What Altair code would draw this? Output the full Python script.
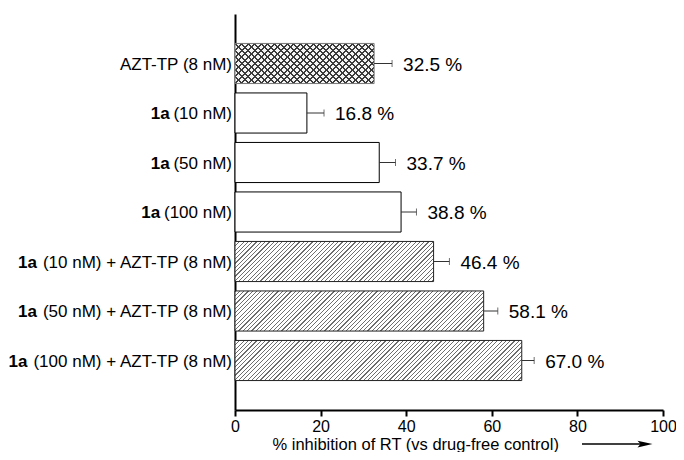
import altair as alt
import pandas as pd

# ---- data ----
label_bold = ["", "1a", "1a", "1a", "1a", "1a", "1a"]
label_rest = ["AZT-TP (8 nM)", "(10 nM)", "(50 nM)", "(100 nM)",
              "(10 nM) + AZT-TP (8 nM)", "(50 nM) + AZT-TP (8 nM)",
              "(100 nM) + AZT-TP (8 nM)"]
values = [32.5, 16.8, 33.7, 38.8, 46.4, 58.1, 67.0]
errors = [4.2, 4.0, 3.8, 3.6, 3.7, 3.3, 2.9]
styles = ["cross", "plain", "plain", "plain", "hatch", "hatch", "hatch"]
x_ticks = [0, 20, 40, 60, 80, 100]
x_title = "% inhibition of RT (vs drug-free control)"

categories = [(b + " " + r) if b else r for b, r in zip(label_bold, label_rest)]
df = pd.DataFrame({
    "cat": categories,
    "bold": label_bold,
    "rest": label_rest,
    "value": values,
    "hi": [v + e for v, e in zip(values, errors)],
    "style": styles,
    "txt": [f"{v:.1f} %" for v in values],
})

FONT = "Liberation Sans"
PLOT_W, PLOT_H = 428, 396
P_IN, P_OUT = 0.19, 0.595
STEP = PLOT_H / (len(categories) - P_IN + 2 * P_OUT)
BAR_H = STEP * (1 - P_IN)
LBL_SIZE = 17

# Arial-metric widths (em) for label placement
W_REG = {" ": .278, "(": .333, ")": .333, "n": .556, "M": .833, "+": .584,
         "A": .667, "Z": .611, "T": .611, "-": .333, "P": .667}
for d in "0123456789":
    W_REG[d] = .556


def text_w(s, size):
    return sum(W_REG.get(c, .556) for c in s) * size


def stripes(w, h, spacing, lw, color, base, flip):
    span = w + h
    k = span / (w * w + h * h)
    n = span / spacing
    frac = lw / spacing
    stops = []
    i = 0
    while i < n:
        t0 = i / n
        t1 = min((i + frac) / n, 1.0)
        stops += [{"offset": t0, "color": base}, {"offset": t0, "color": color},
                  {"offset": t1, "color": color}, {"offset": t1, "color": base}]
        i += 1
    stops.append({"offset": 1.0, "color": base})
    if flip:
        return {"gradient": "linear", "x1": 0, "y1": 1, "x2": w * k, "y2": 1 - h * k, "stops": stops}
    return {"gradient": "linear", "x1": 0, "y1": 0, "x2": w * k, "y2": h * k, "stops": stops}


y_enc = alt.Y("cat:N", sort=categories,
              scale=alt.Scale(paddingInner=P_IN, paddingOuter=P_OUT),
              axis=alt.Axis(labels=False, ticks=False, title=None, domainColor="black",
                            domainWidth=2, grid=False))
x_enc = alt.X("value:Q", scale=alt.Scale(domain=[0, 100], nice=False),
              axis=alt.Axis(values=x_ticks, grid=False, domainColor="black", domainWidth=2,
                            tickColor="black", tickWidth=2, tickSize=6, labelFlush=False,
                            labelFont=FONT, labelFontSize=16, labelColor="black", labelPadding=2,
                            title=x_title, titleFont=FONT, titleFontSize=16.5,
                            titleFontWeight="normal", titleColor="black", titleAlign="left",
                            titleAnchor="start", titleX=37, titleY=39,
                            titleBaseline="alphabetic"))

base = alt.Chart(df)
layers = []

# plain bars
layers.append(base.transform_filter(alt.datum.style == "plain").mark_bar(
    fill="white", stroke="black", strokeWidth=1, height=BAR_H).encode(x=x_enc, y=y_enc))

# hatched bars (one layer each, gradient stripes sized to the bar)
for cat, v, s in zip(categories, values, styles):
    wpx = v / 100 * PLOT_W
    if s == "hatch":
        layers.append(base.transform_filter(alt.datum.cat == cat).mark_bar(
            fill=stripes(wpx, BAR_H, 4.3, 1.2, "#6e6e6e", "white", False),
            stroke="#222", strokeWidth=1, height=BAR_H).encode(x=x_enc, y=y_enc))
    elif s == "cross":
        layers.append(base.transform_filter(alt.datum.cat == cat).mark_bar(
            fill=stripes(wpx, BAR_H, 6.5, 1.7, "#3a3a3a", "#f4f4f4", False),
            strokeWidth=0, height=BAR_H).encode(x=x_enc, y=y_enc))
        layers.append(base.transform_filter(alt.datum.cat == cat).mark_bar(
            fill=stripes(wpx, BAR_H, 6.5, 1.7, "#3a3a3a", "rgba(0,0,0,0)", True),
            stroke="#777", strokeWidth=1, height=BAR_H).encode(x=x_enc, y=y_enc))

# error bars
layers.append(base.mark_rule(color="#333", strokeWidth=1).encode(
    x="value:Q", x2="hi:Q", y=alt.Y("cat:N", sort=categories)))
layers.append(base.mark_tick(color="#333", thickness=1, size=7, orient="vertical").encode(
    x="hi:Q", y=alt.Y("cat:N", sort=categories)))

# value labels
layers.append(base.mark_text(align="left", baseline="middle", dx=11, dy=1, font=FONT,
                             fontSize=19, color="black").encode(
    x="hi:Q", y=alt.Y("cat:N", sort=categories), text="txt:N"))

# category labels: regular part
layers.append(base.mark_text(align="right", baseline="middle", font=FONT, fontSize=LBL_SIZE,
                             color="black", dy=1).encode(
    x=alt.value(-3), y=alt.Y("cat:N", sort=categories), text="rest:N"))
# bold "1a" part
for cat, b, r in zip(categories, label_bold, label_rest):
    if b:
        off = text_w(r, LBL_SIZE) + 0.22 * LBL_SIZE
        layers.append(base.transform_filter(alt.datum.cat == cat).mark_text(
            align="right", baseline="middle", font=FONT, fontSize=LBL_SIZE, fontWeight="bold",
            color="black", dx=-off, dy=1).encode(
            x=alt.value(-3), y=alt.Y("cat:N", sort=categories), text="bold:N"))

# arrow after the axis title
deco = alt.Chart(pd.DataFrame({"a": [0]}))
layers.append(deco.mark_rule(color="black", strokeWidth=1.5).encode(
    x=alt.value(347), x2=alt.value(406), y=alt.value(PLOT_H + 34)))
layers.append(deco.mark_point(shape="M -1 -0.45 L 1 0 L -1 0.45 L -0.6 0 Z", size=225,
                              filled=True, color="black", opacity=1).encode(
    x=alt.value(410), y=alt.value(PLOT_H + 34)))

chart = alt.layer(*layers).properties(
    width=PLOT_W, height=PLOT_H,
    background="white",
    autosize=alt.AutoSizeParams(type="none"),
    padding={"left": 227, "top": 6, "right": 13, "bottom": 42},
).configure_view(stroke=None)

chart.save("out.html", embed_options={"renderer": "svg", "actions": False})
